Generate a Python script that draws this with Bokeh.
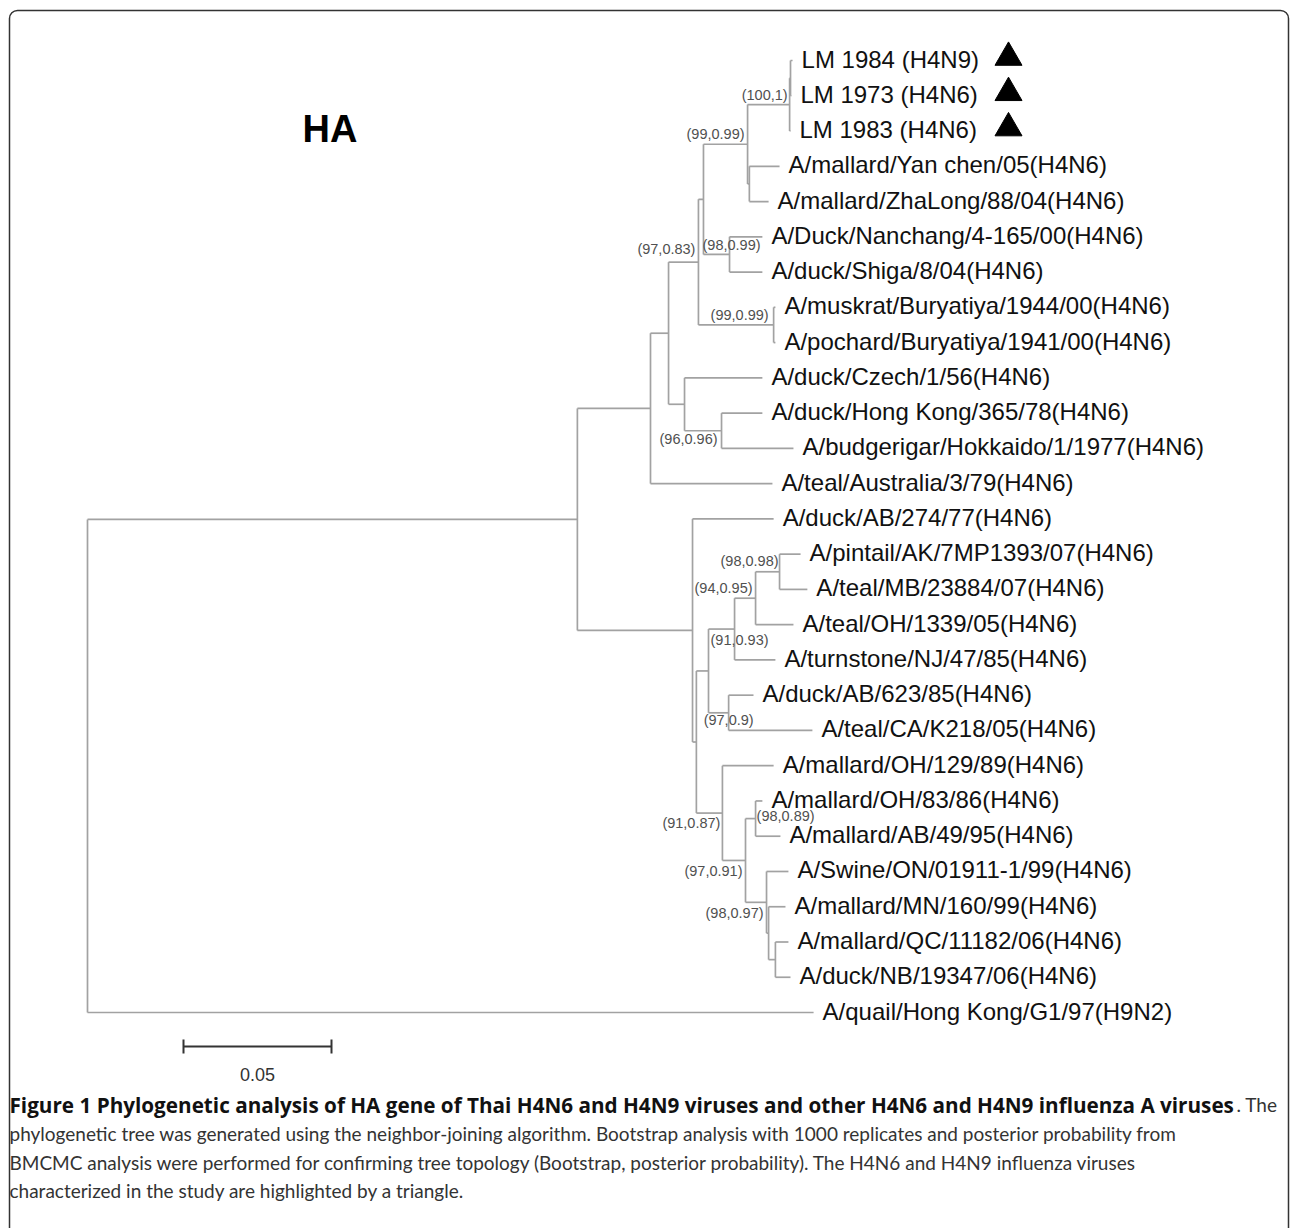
import numpy as np
from bokeh.plotting import figure
from bokeh.models import Range1d, Label, BoxAnnotation, ColumnDataSource
from bokeh.core.properties import value
from bokeh.embed import file_html
from bokeh.resources import INLINE

# ---------------- data ----------------
leaf_names = [
    "LM 1984 (H4N9)", "LM 1973 (H4N6)", "LM 1983 (H4N6)",
    "A/mallard/Yan chen/05(H4N6)", "A/mallard/ZhaLong/88/04(H4N6)",
    "A/Duck/Nanchang/4-165/00(H4N6)", "A/duck/Shiga/8/04(H4N6)",
    "A/muskrat/Buryatiya/1944/00(H4N6)", "A/pochard/Buryatiya/1941/00(H4N6)",
    "A/duck/Czech/1/56(H4N6)", "A/duck/Hong Kong/365/78(H4N6)",
    "A/budgerigar/Hokkaido/1/1977(H4N6)", "A/teal/Australia/3/79(H4N6)",
    "A/duck/AB/274/77(H4N6)", "A/pintail/AK/7MP1393/07(H4N6)",
    "A/teal/MB/23884/07(H4N6)", "A/teal/OH/1339/05(H4N6)",
    "A/turnstone/NJ/47/85(H4N6)", "A/duck/AB/623/85(H4N6)",
    "A/teal/CA/K218/05(H4N6)", "A/mallard/OH/129/89(H4N6)",
    "A/mallard/OH/83/86(H4N6)", "A/mallard/AB/49/95(H4N6)",
    "A/Swine/ON/01911-1/99(H4N6)", "A/mallard/MN/160/99(H4N6)",
    "A/mallard/QC/11182/06(H4N6)", "A/duck/NB/19347/06(H4N6)",
    "A/quail/Hong Kong/G1/97(H9N2)",
]
# distance of each tip from the root (substitutions per site)
leaf_depth = [
    0.2382, 0.2378, 0.2375, 0.2338, 0.2301, 0.2280, 0.2280, 0.2324, 0.2324,
    0.2280, 0.2280, 0.2385, 0.2314, 0.2318, 0.2409, 0.2432, 0.2385, 0.2324,
    0.2250, 0.2449, 0.2318, 0.2280, 0.2341, 0.2368, 0.2358, 0.2368, 0.2375,
    0.2453,
]
highlighted = [0, 1, 2]

node_names = ["Z", "Y", "B", "A", "F", "D", "E", "C", "I", "H", "G", "J",
              "Q", "P", "O", "R", "N", "U", "X", "W", "V", "T", "S", "M",
              "L", "K", "root"]
node_depth = [0.2375, 0.2372, 0.2236, 0.2230, 0.2169, 0.2081, 0.2318, 0.2064,
              0.2142, 0.2017, 0.1963, 0.1902, 0.2338, 0.2257, 0.2186, 0.2166,
              0.2098, 0.2257, 0.2324, 0.2301, 0.2294, 0.2223, 0.2145, 0.2057,
              0.2044, 0.1655, 0.0]
node_children = [[0, 1], ["Z", 2], [3, 4], ["Y", "B"], [5, 6], ["A", "F"],
                 [7, 8], ["D", "E"], [10, 11], [9, "I"], ["C", "H"], ["G", 12],
                 [14, 15], ["Q", 16], ["P", 17], [18, 19], ["O", "R"],
                 [21, 22], [25, 26], [24, "X"], [23, "W"], ["U", "V"],
                 [20, "T"], ["N", "S"], [13, "M"], ["J", "L"], ["K", 27]]

support_node = ["Y", "A", "C", "F", "E", "I", "Q", "P", "O", "R", "S", "T", "U", "V"]
support_text = ["(100,1)", "(99,0.99)", "(97,0.83)", "(98,0.99)", "(99,0.99)",
                "(96,0.96)", "(98,0.98)", "(94,0.95)", "(91,0.93)", "(97,0.9)",
                "(91,0.87)", "(97,0.91)", "(98,0.89)", "(98,0.97)"]

scale_bar_length = 0.05
scale_bar_label = "0.05"
panel_title = "HA"
caption_bold = ("Figure 1 Phylogenetic analysis of HA gene of Thai H4N6 and H4N9 "
                "viruses and other H4N6 and H4N9 influenza A viruses")
caption_lines = [
    ". The",
    "phylogenetic tree was generated using the neighbor-joining algorithm. "
    "Bootstrap analysis with 1000 replicates and posterior probability from",
    "BMCMC analysis were performed for confirming tree topology (Bootstrap, "
    "posterior probability). The H4N6 and H4N9 influenza viruses",
    "characterized in the study are highlighted by a triangle.",
]

# ---------------- layout / style ----------------
W, H, OFF = 1290, 1228, 0
PX_PER_UNIT = 2960.0
ROOT_PX = 87.0
LEAF0_PX = 60.0
STEP_PX = 35.26

x_start = -(ROOT_PX - OFF) / PX_PER_UNIT
x_end = x_start + W / PX_PER_UNIT
y_top = (OFF - LEAF0_PX) / STEP_PX
y_bot = (OFF + H - LEAF0_PX) / STEP_PX


def X(px):
    return x_start + (px - OFF) / PX_PER_UNIT


def Y(py):
    return (py - LEAF0_PX) / STEP_PX


def dxu(px):
    return px / PX_PER_UNIT


def dyu(px):
    return px / STEP_PX


# label placement (style): x shift px, y shift px (to text centre), alignment
support_place = {
    "Y": (-2, -8, "right"), "A": (-3, -9, "right"), "C": (-3, -12, "right"),
    "F": (31, -8, "right"), "E": (-5, -8, "right"), "I": (-4, 10, "right"),
    "Q": (-1, -9, "right"), "P": (-3, -9, "right"), "O": (34, 12, "right"),
    "R": (25, 9, "right"), "S": (-2, 11, "right"), "T": (-3, 12, "right"),
    "U": (1, -1, "left"), "V": (-3, 12, "right"),
}

LINE_COLOR = "#a2a2a2"
LEAF_FONT = "Liberation Sans"
TXT_DY = -1.5   # correction so that the text centre sits on the given y

# ---------------- tree geometry ----------------
nodes = {n: (d, c) for n, d, c in zip(node_names, node_depth, node_children)}
ypos = {}


def get_y(k):
    if isinstance(k, int):
        return float(k)
    if k in ypos:
        return ypos[k]
    ch = nodes[k][1]
    ys = [get_y(c) for c in ch]
    ypos[k] = (ys[0] + ys[-1]) / 2.0
    return ypos[k]


def get_x(k):
    if isinstance(k, int):
        return leaf_depth[k]
    return nodes[k][0]


hx0, hx1, hy, vx, vy0, vy1 = [], [], [], [], [], []
for n in node_names:
    d, ch = nodes[n]
    ys = [get_y(c) for c in ch]
    vx.append(d)
    vy0.append(min(ys))
    vy1.append(max(ys))
    for c, yc in zip(ch, ys):
        hx0.append(d)
        hx1.append(get_x(c))
        hy.append(yc)

p = figure(width=W, height=H, output_backend="svg", toolbar_location=None,
           x_range=Range1d(x_start, x_end), y_range=Range1d(y_bot, y_top),
           x_axis_location=None, y_axis_location=None, min_border=0,
           background_fill_color="white", border_fill_color="white")
p.grid.visible = False
p.outline_line_color = None

p.segment(x0=hx0, y0=hy, x1=hx1, y1=hy, line_color=LINE_COLOR, line_width=1.7)
p.segment(x0=vx, y0=vy0, x1=vx, y1=vy1, line_color=LINE_COLOR, line_width=1.7)

# tip labels
leaf_src = ColumnDataSource(dict(
    x=[d + dxu(9) for d in leaf_depth],
    y=[i + dyu(TXT_DY) for i in range(len(leaf_names))],
    t=leaf_names))
p.text(x="x", y="y", text="t", source=leaf_src, text_font=value(LEAF_FONT),
       text_font_size="24px", text_color="#111111", text_baseline="alphabetic",
       text_align="left")

# highlight triangles
p.scatter(x=[X(1008)] * len(highlighted),
          y=[i + dyu(-3) for i in highlighted],
          marker="triangle", size=27, fill_color="black", line_color="black")

# support values
for align in ("left", "right"):
    sx, sy, st = [], [], []
    for n, t in zip(support_node, support_text):
        ddx, ddy, a = support_place[n]
        if a != align:
            continue
        sx.append(get_x(n) + dxu(ddx))
        sy.append(get_y(n) + dyu(ddy + TXT_DY))
        st.append(t)
    p.text(x=sx, y=sy, text=st, text_font=value(LEAF_FONT),
           text_font_size="14.5px", text_color="#505050",
           text_baseline="alphabetic", text_align=align)

# scale bar
sb_x0 = X(183)
sb_y = Y(1046)
p.segment(x0=[sb_x0], y0=[sb_y], x1=[sb_x0 + scale_bar_length], y1=[sb_y],
          line_color="#333333", line_width=2)
p.segment(x0=[sb_x0, sb_x0 + scale_bar_length], y0=[sb_y - dyu(7)] * 2,
          x1=[sb_x0, sb_x0 + scale_bar_length], y1=[sb_y + dyu(7)] * 2,
          line_color="#333333", line_width=2)
p.text(x=[sb_x0 + scale_bar_length / 2], y=[Y(1074)], text=[scale_bar_label],
       text_font=value(LEAF_FONT), text_font_size="18px", text_color="#333333",
       text_align="center", text_baseline="alphabetic")

# panel title
p.add_layout(Label(x=X(302), y=Y(128), text=panel_title, text_font=LEAF_FONT,
                   text_font_size="38px", text_font_style="bold",
                   text_color="black", text_baseline="alphabetic"))

# outer frame
p.add_layout(BoxAnnotation(left=X(9), right=X(1288), top=Y(10), bottom=Y(1300),
                           border_radius=8, fill_alpha=0, line_color="#333333",
                           line_width=1.5, line_alpha=1))

# caption
p.add_layout(Label(x=X(9), y=Y(1104), text=caption_bold, text_font="Open Sans",
                   text_font_size="20.7px", text_font_style="bold",
                   text_color="#111111", text_baseline="alphabetic"))
p.add_layout(Label(x=X(1236), y=Y(1104), text=caption_lines[0], text_font="Lato",
                   text_font_size="19px", text_color="#333333",
                   text_baseline="alphabetic", text_align="left"))
for i, line in enumerate(caption_lines[1:]):
    p.add_layout(Label(x=X(9), y=Y(1133 + 28.7 * i), text=line, text_font="Lato",
                       text_font_size="19px", text_color="#333333",
                       text_baseline="alphabetic"))

open("out.html", "w").write(file_html(p, INLINE))
